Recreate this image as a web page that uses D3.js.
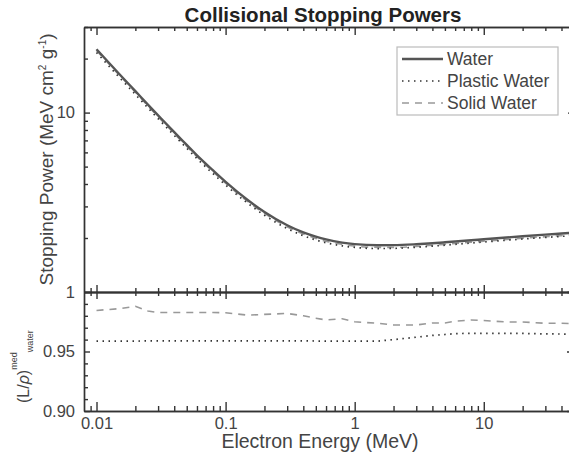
<!doctype html>
<html>
<head>
    <meta charset="UTF-8">
    <title>Collisional Stopping Powers</title>
    <script src="https://cdn.jsdelivr.net/npm/d3@7"></script>
    <style>
        body { margin: 0; background: #fff; }
        text { font-family: "Liberation Sans", Arial, sans-serif; fill: #333; }
        .axis path, .axis line { stroke: #333; stroke-width: 1.4; }
        .axis text { font-size: 16.5px; fill: #444; }
    </style>
</head>
<body>

    <div id="chart"></div>

    <script>

        // energies (MeV)
        var energy = [0.01, 0.015, 0.02, 0.025, 0.03, 0.04, 0.05, 0.06, 0.08, 0.1,
                      0.15, 0.2, 0.3, 0.4, 0.5, 0.6, 0.8, 1, 1.5, 2,
                      3, 4, 5, 6, 8, 10, 15, 20, 30, 40, 50];

        // collisional stopping power (MeV cm2 / g)
        var water = [22.56, 16.42, 13.17, 11.08, 9.653, 7.777, 6.603, 5.777, 4.760, 4.115,
                     3.238, 2.793, 2.355, 2.148, 2.034, 1.963, 1.886, 1.849, 1.822, 1.824,
                     1.846, 1.870, 1.892, 1.911, 1.942, 1.968, 2.014, 2.046, 2.089, 2.118, 2.141];
        var plasticWater = [21.63, 15.74, 12.63, 10.63, 9.257, 7.458, 6.332, 5.540, 4.565, 3.946,
                            3.105, 2.678, 2.258, 2.060, 1.950, 1.882, 1.808, 1.773, 1.747, 1.751,
                            1.776, 1.802, 1.824, 1.844, 1.875, 1.900, 1.944, 1.975, 2.015, 2.043, 2.065];
        var solidWater = [22.21, 16.19, 13.01, 10.90, 9.487, 7.643, 6.489, 5.678, 4.678, 4.043,
                          3.175, 2.741, 2.313, 2.105, 1.989, 1.917, 1.844, 1.803, 1.774, 1.774,
                          1.795, 1.821, 1.843, 1.864, 1.896, 1.921, 1.963, 1.994, 2.034, 2.063, 2.084];

        // ratio to water
        var plasticRatio = [0.9587, 0.9587, 0.9587, 0.9590, 0.9590, 0.9590, 0.9590, 0.9590, 0.9590, 0.9590,
                            0.9590, 0.9590, 0.9590, 0.9590, 0.9588, 0.9587, 0.9587, 0.9587, 0.9587, 0.9600,
                            0.9620, 0.9635, 0.9643, 0.9650, 0.9653, 0.9653, 0.9653, 0.9652, 0.9648, 0.9647, 0.9645];
        var solidRatio = [0.9845, 0.9860, 0.9880, 0.9840, 0.9828, 0.9828, 0.9828, 0.9828, 0.9828, 0.9826,
                          0.9805, 0.9812, 0.9820, 0.9800, 0.9780, 0.9765, 0.9775, 0.9750, 0.9737, 0.9723,
                          0.9723, 0.9740, 0.9740, 0.9755, 0.9765, 0.9760, 0.9748, 0.9748, 0.9737, 0.9737, 0.9735];

        var seriesNames = ["Water", "Plastic Water", "Solid Water"];

        var xMajor = [0.01, 0.1, 1, 10];
        var xMinor = [0.009, 0.02, 0.03, 0.04, 0.05, 0.06, 0.07, 0.08, 0.09,
                      0.2, 0.3, 0.4, 0.5, 0.6, 0.7, 0.8, 0.9,
                      2, 3, 4, 5, 6, 7, 8, 9, 20, 30, 40, 50];
        var spMajor = [1, 10];
        var spMinor = [2, 3, 4, 5, 6, 7, 8, 9, 20, 30];
        var ratioMajor = [0.90, 0.95, 1.00];
        var ratioMinor = [0.91, 0.92, 0.93, 0.94, 0.96, 0.97, 0.98, 0.99];

        var width = 569,
            height = 457;

        var left = 84, right = 574,
            top1 = 27, mid = 292, bottom = 411;

        var styles = [
            { color: "#555", width: 2.4, dash: null },
            { color: "#333", width: 1.7, dash: "1.5,4.5" },
            { color: "#999", width: 1.6, dash: "7,6" }
        ];

        var svg = d3.select("#chart")
            .append("svg")
            .attr("width", width)
            .attr("height", height)
            .style("display", "block");

        var x = d3.scaleLog().domain([0.008, 50]).range([left, right]);
        var y1 = d3.scaleLog().domain([1, 30]).range([mid, top1]);
        var y2 = d3.scaleLinear().domain([0.90, 1.00]).range([bottom, mid]);

        svg.append("clipPath").attr("id", "clip")
            .append("rect")
            .attr("x", left).attr("y", top1)
            .attr("width", right - left).attr("height", bottom - top1);

        // lines
        var upperData = [water, plasticWater, solidWater];
        var lowerData = [null, plasticRatio, solidRatio];

        var lineUp = d3.line()
            .x(function (d, i) { return x(energy[i]); })
            .y(function (d) { return y1(d); })
            .curve(d3.curveMonotoneX);

        var lineLow = d3.line()
            .x(function (d, i) { return x(energy[i]); })
            .y(function (d) { return y2(d); });

        var plot = svg.append("g").attr("clip-path", "url(#clip)");

        // draw the light ones first so water sits on top
        [2, 1, 0].forEach(function (k) {
            plot.append("path")
                .attr("d", lineUp(upperData[k]))
                .attr("fill", "none")
                .attr("stroke", styles[k].color)
                .attr("stroke-width", styles[k].width)
                .attr("stroke-dasharray", styles[k].dash);
            if (lowerData[k]) {
                plot.append("path")
                    .attr("d", lineLow(lowerData[k]))
                    .attr("fill", "none")
                    .attr("stroke", styles[k].color)
                    .attr("stroke-width", styles[k].width)
                    .attr("stroke-dasharray", styles[k].dash);
            }
        });

        // axes
        function addAxis(axis, tx, ty) {
            return svg.append("g")
                .attr("class", "axis")
                .attr("transform", "translate(" + tx + "," + ty + ")")
                .call(axis);
        }

        var xFmt = function (d) { return d < 0.1 ? "0.01" : d3.format("~g")(d); };

        // bottom of lower panel
        addAxis(d3.axisBottom(x).tickValues(xMajor).tickSize(-9).tickSizeOuter(0).tickPadding(6).tickFormat(xFmt), 0, bottom);
        addAxis(d3.axisBottom(x).tickValues(xMinor).tickSize(-5).tickSizeOuter(0).tickFormat(""), 0, bottom);
        // middle line, ticks both ways
        addAxis(d3.axisBottom(x).tickValues(xMajor).tickSize(-7).tickSizeOuter(0).tickFormat(""), 0, mid);
        addAxis(d3.axisBottom(x).tickValues(xMinor).tickSize(-4).tickSizeOuter(0).tickFormat(""), 0, mid);
        addAxis(d3.axisTop(x).tickValues(xMajor).tickSize(-7).tickSizeOuter(0).tickFormat(""), 0, mid);
        addAxis(d3.axisTop(x).tickValues(xMinor).tickSize(-4).tickSizeOuter(0).tickFormat(""), 0, mid);
        // top
        addAxis(d3.axisTop(x).tickValues(xMajor).tickSize(-8).tickSizeOuter(0).tickFormat(""), 0, top1);
        addAxis(d3.axisTop(x).tickValues(xMinor).tickSize(-4).tickSizeOuter(0).tickFormat(""), 0, top1);

        // left, upper panel
        addAxis(d3.axisLeft(y1).tickValues(spMajor).tickSize(-6).tickSizeOuter(0).tickPadding(9).tickFormat(d3.format("d")), left, 0);
        addAxis(d3.axisLeft(y1).tickValues(spMinor).tickSize(-4).tickSizeOuter(0).tickFormat(""), left, 0);
        // left, lower panel
        addAxis(d3.axisLeft(y2).tickValues(ratioMajor).tickSize(-6).tickSizeOuter(0).tickPadding(9)
            .tickFormat(function (d) { return d >= 1 ? "" : d3.format(".2f")(d); }), left, 0);
        addAxis(d3.axisLeft(y2).tickValues(ratioMinor).tickSize(-4).tickSizeOuter(0).tickFormat(""), left, 0);
        // right
        addAxis(d3.axisRight(y1).tickValues(spMajor).tickSize(-6).tickSizeOuter(0).tickFormat(""), right, 0);
        addAxis(d3.axisRight(y1).tickValues(spMinor).tickSize(-4).tickSizeOuter(0).tickFormat(""), right, 0);
        addAxis(d3.axisRight(y2).tickValues(ratioMajor).tickSize(-7).tickSizeOuter(0).tickFormat(""), right, 0);
        addAxis(d3.axisRight(y2).tickValues(ratioMinor).tickSize(-4).tickSizeOuter(0).tickFormat(""), right, 0);

        // title
        svg.append("text")
            .attr("x", 323)
            .attr("y", 22)
            .attr("text-anchor", "middle")
            .style("font-size", "20.5px")
            .style("font-weight", "bold")
            .style("fill", "#222")
            .text("Collisional Stopping Powers");

        // x label
        svg.append("text")
            .attr("x", 320)
            .attr("y", 448)
            .attr("text-anchor", "middle")
            .style("font-size", "19.5px")
            .style("fill", "#444")
            .text("Electron Energy (MeV)");

        // y label upper
        var yl = svg.append("text")
            .attr("transform", "translate(53," + (top1 + mid) / 2 + ") rotate(-90)")
            .attr("text-anchor", "middle")
            .style("font-size", "19px")
            .style("fill", "#444");
        yl.append("tspan").text("Stopping Power (MeV cm");
        yl.append("tspan").attr("dy", -7).style("font-size", "10px").text("2");
        yl.append("tspan").attr("dy", 7).text(" g");
        yl.append("tspan").attr("dy", -7).style("font-size", "10px").text("-1");
        yl.append("tspan").attr("dy", 7).text(")");

        // y label lower
        var yl2 = svg.append("text")
            .attr("transform", "translate(29,403) rotate(-90)")
            .style("font-size", "16px")
            .style("fill", "#444");
        yl2.append("tspan").text("(L/");
        yl2.append("tspan").style("font-style", "italic").text("ρ");
        yl2.append("tspan").text(")");
        yl2.append("tspan").attr("dy", -12).style("font-size", "9px").text("med");
        yl2.append("tspan").attr("dy", 16).style("font-size", "9px").text("water");

        // legend
        var legend = svg.append("g").attr("transform", "translate(397,47)");
        legend.append("rect")
            .attr("width", 161)
            .attr("height", 68)
            .attr("fill", "#fff")
            .attr("stroke", "#bbb")
            .attr("stroke-width", 1.2);

        var items = legend.selectAll(".item")
            .data(seriesNames)
            .enter()
            .append("g")
            .attr("class", "item")
            .attr("transform", function (d, i) { return "translate(0," + (12 + i * 22) + ")"; });

        items.append("line")
            .attr("x1", 5).attr("x2", 46)
            .attr("y1", 0).attr("y2", 0)
            .attr("stroke", function (d, i) { return styles[i].color; })
            .attr("stroke-width", function (d, i) { return styles[i].width; })
            .attr("stroke-dasharray", function (d, i) { return styles[i].dash; });

        items.append("text")
            .attr("x", 50)
            .attr("y", 6)
            .style("font-size", "17.5px")
            .style("fill", "#444")
            .text(function (d) { return d; });

    </script>

</body>
</html>
